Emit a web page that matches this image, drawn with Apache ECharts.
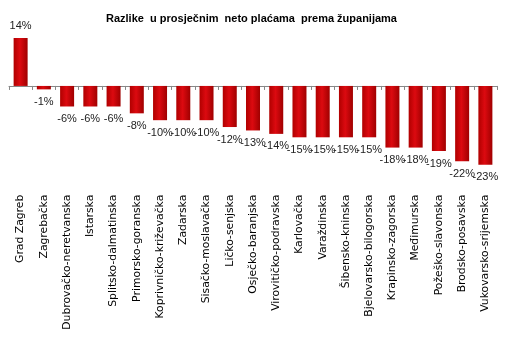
<!DOCTYPE html>
<html>
<head>
<meta charset="utf-8">
<script src="https://cdn.jsdelivr.net/npm/echarts@6/dist/echarts.min.js"></script>
<style>
html,body{margin:0;padding:0;background:#fff;}
#c{width:513px;height:339px;}
</style>
</head>
<body>
<div id="c"></div>
<script>
const categories = ['Grad Zagreb','Zagrebačka','Dubrovačko-neretvanska','Istarska','Splitsko-dalmatinska','Primorsko-goranska','Koprivničko-križevačka','Zadarska','Sisačko-moslavačka','Ličko-senjska','Osječko-baranjska','Virovitičko-podravska','Karlovačka','Varaždinska','Šibensko-kninska','Bjelovarsko-bilogorska','Krapinsko-zagorska','Međimurska','Požeško-slavonska','Brodsko-posavska','Vukovarsko-srijemska'];
const values = [14,-1,-6,-6,-6,-8,-10,-10,-10,-12,-13,-14,-15,-15,-15,-15,-18,-18,-19,-22,-23];
const titleText = 'Razlike  u prosječnim  neto plaćama  prema županijama';

const chart = echarts.init(document.getElementById('c'));
chart.setOption({
  animation:false,
  backgroundColor:'#fff',
  title:{text:titleText,left:106,top:13,padding:0,
    textStyle:{fontFamily:'Liberation Sans',fontWeight:'bold',fontSize:11,color:'#000'}},
  grid:{left:9,width:488,top:38,height:126.7,containLabel:false,outerBoundsMode:'none'},
  xAxis:{type:'category',data:categories,
    axisLine:{onZero:true,lineStyle:{color:'#888',width:1}},
    axisTick:{show:true,length:4,lineStyle:{color:'#888'}},
    axisLabel:{rotate:90,margin:30,fontFamily:'DejaVu Sans',fontSize:10.8,color:'#000',interval:0}},
  yAxis:{type:'value',min:-23,max:14,show:false,splitLine:{show:false}},
  series:[{type:'bar',barWidth:14,
    data:values.map(v=>({value:v,label:{position:v>=0?'top':'bottom'}})),
    itemStyle:{color:new echarts.graphic.LinearGradient(0,0,1,0,[
      {offset:0,color:'#b00000'},{offset:0.45,color:'#dc0a10'},{offset:1,color:'#a00000'}])},
    label:{show:true,distance:7,formatter:p=>p.value+'%',
      fontFamily:'Liberation Sans',fontSize:11,color:'#222'}
  }]
});
</script>
</body>
</html>
